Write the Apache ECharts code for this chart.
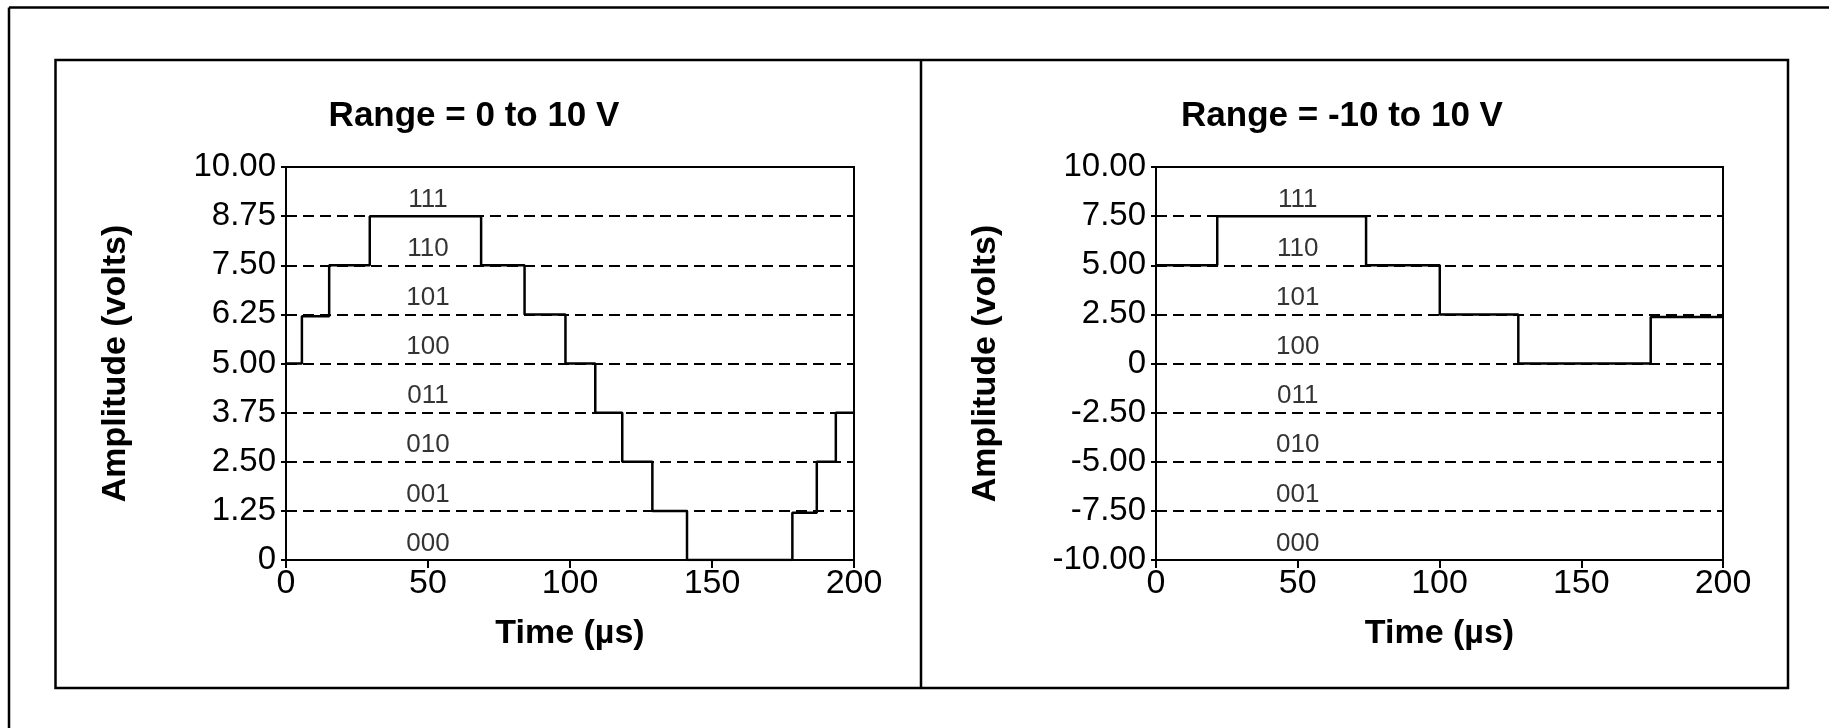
<!DOCTYPE html>
<html><head><meta charset="utf-8">
<script src="https://cdn.jsdelivr.net/npm/echarts@6/dist/echarts.min.js"></script>
<style>html,body{margin:0;padding:0;background:#fff}#chart{width:1829px;height:728px}</style>
</head><body><div id="chart"></div>
<script>
const titles = ['Range = 0 to 10 V', 'Range = -10 to 10 V'];
const xAxisName = 'Time (µs)';
const yAxisName = 'Amplitude (volts)';
const xTickLabels = ['0', '50', '100', '150', '200'];
const leftYTickLabels = ['0', '1.25', '2.50', '3.75', '5.00', '6.25', '7.50', '8.75', '10.00'];
const rightYTickLabels = ['-10.00', '-7.50', '-5.00', '-2.50', '0', '2.50', '5.00', '7.50', '10.00'];
const codes = ['000', '001', '010', '011', '100', '101', '110', '111'];
const leftCodeLevels = [0, 1.25, 2.5, 3.75, 5, 6.25, 7.5, 8.75];
const rightCodeLevels = [-10, -7.5, -5, -2.5, 0, 2.5, 5, 7.5];
const codeLabelTime = 50;
const leftStepTimes = [0, 5.6, 15.2, 29.5, 68.7, 84, 98.4, 108.9, 118.4, 129, 141.2, 178.3, 186.9, 193.6, 200];
const leftStepLevels = [5, 6.2, 7.5, 8.75, 7.5, 6.25, 5, 3.75, 2.5, 1.25, 0, 1.2, 2.5, 3.75, 3.75];
const rightStepTimes = [0, 21.6, 74.1, 100.1, 127.8, 174.5, 200];
const rightStepLevels = [5, 7.5, 5, 2.5, 0, 2.37, 2.37];

const FONT = 'Liberation Sans';
const chart = echarts.init(document.getElementById('chart'), null, {renderer: 'canvas'});

function xAxisCfg(gi) {
  return {
    type: 'value', gridIndex: gi, min: 0, max: 200, interval: 50,
    name: xAxisName, nameLocation: 'middle', nameGap: 57,
    nameTextStyle: {fontFamily: FONT, fontWeight: 'bold', fontSize: 34, color: '#000'},
    axisLine: {show: true, onZero: false, lineStyle: {color: '#000', width: 2}},
    axisTick: {show: true, length: 8, lineStyle: {color: '#000', width: 2}},
    axisLabel: {margin: 7, fontFamily: FONT, fontSize: 34, color: '#000',
      formatter: v => xTickLabels[Math.round(v / 50)]},
    splitLine: {show: false}
  };
}
function yAxisCfg(gi, min, max, interval, labels) {
  return {
    type: 'value', gridIndex: gi, min: min, max: max, interval: interval,
    name: yAxisName, nameLocation: 'middle', nameGap: 153,
    nameTextStyle: {fontFamily: FONT, fontWeight: 'bold', fontSize: 34, color: '#000'},
    axisLine: {show: true, onZero: false, lineStyle: {color: '#000', width: 2}},
    axisTick: {show: true, length: 5, lineStyle: {color: '#000', width: 2}},
    axisLabel: {margin: 10, fontFamily: FONT, fontSize: 33, color: '#000',
      formatter: v => labels[Math.round((v - min) / interval)]},
    splitLine: {show: true, lineStyle: {color: '#000', width: 2, type: [11, 6]}}
  };
}
function stepSeries(gi, times, levels) {
  return {
    type: 'line', xAxisIndex: gi, yAxisIndex: gi, step: 'end', showSymbol: false,
    symbol: 'none', silent: true, z: 5, animation: false,
    lineStyle: {color: '#000', width: 2.5},
    data: times.map((t, i) => [t, levels[i]])
  };
}
function codeSeries(gi, levels) {
  return {
    type: 'scatter', xAxisIndex: gi, yAxisIndex: gi, symbolSize: 1, silent: true,
    itemStyle: {color: 'rgba(0,0,0,0)'}, animation: false, z: 6,
    label: {show: true, position: 'top', distance: 3, fontFamily: FONT, fontSize: 26, color: '#000',
      formatter: p => codes[p.dataIndex]},
    data: levels.map(l => [codeLabelTime, l])
  };
}

const boldFont = 'bold 35px "Liberation Sans"';
chart.setOption({
  backgroundColor: '#fff',
  animation: false,
  grid: [
    {left: 286, top: 167, width: 568, height: 393, show: true, borderColor: '#000', borderWidth: 2, backgroundColor: 'transparent'},
    {left: 1156, top: 167, width: 567, height: 393, show: true, borderColor: '#000', borderWidth: 2, backgroundColor: 'transparent'}
  ],
  xAxis: [xAxisCfg(0), xAxisCfg(1)],
  yAxis: [
    yAxisCfg(0, 0, 10, 1.25, leftYTickLabels),
    yAxisCfg(1, -10, 10, 2.5, rightYTickLabels)
  ],
  series: [
    stepSeries(0, leftStepTimes, leftStepLevels),
    stepSeries(1, rightStepTimes, rightStepLevels),
    codeSeries(0, leftCodeLevels),
    codeSeries(1, rightCodeLevels)
  ],
  graphic: [
    {type: 'line', silent: true, shape: {x1: 9, y1: 7.5, x2: 1829, y2: 7.5}, style: {stroke: '#000', lineWidth: 2.5}},
    {type: 'line', silent: true, shape: {x1: 9, y1: 7.5, x2: 9, y2: 728}, style: {stroke: '#000', lineWidth: 2.5}},
    {type: 'rect', silent: true, shape: {x: 55.5, y: 60, width: 1732.5, height: 628}, style: {fill: 'none', stroke: '#000', lineWidth: 2.5}},
    {type: 'line', silent: true, shape: {x1: 921, y1: 60, x2: 921, y2: 688}, style: {stroke: '#000', lineWidth: 2.5}},
    {type: 'text', silent: true, x: 474, y: 116, style: {text: titles[0], font: boldFont, fill: '#000', align: 'center', verticalAlign: 'middle'}},
    {type: 'text', silent: true, x: 1342, y: 116, style: {text: titles[1], font: boldFont, fill: '#000', align: 'center', verticalAlign: 'middle'}}
  ]
});
</script>
</body></html>
